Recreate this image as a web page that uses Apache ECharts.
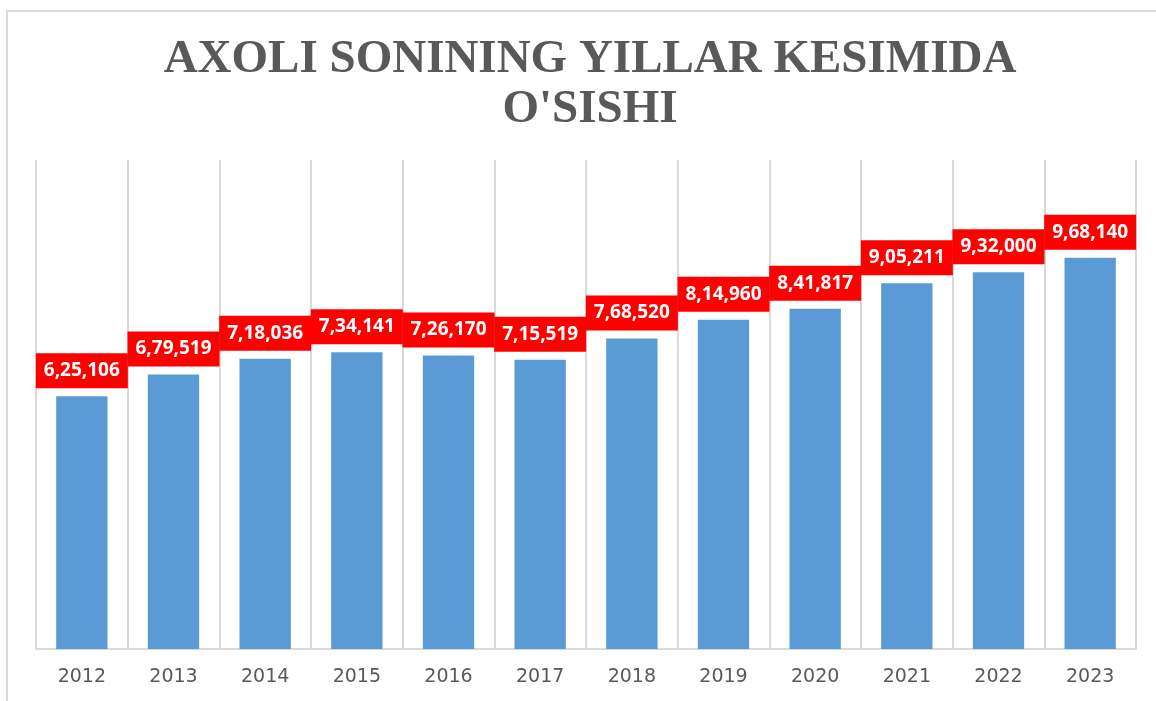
<!DOCTYPE html>
<html>
<head>
<meta charset="utf-8">
<script src="https://cdn.jsdelivr.net/npm/echarts@6/dist/echarts.min.js"></script>
<style>
  html, body { margin: 0; padding: 0; background: #fff; }
  #chart { width: 1156px; height: 701px; }
</style>
</head>
<body>
<div id="chart"></div>
<script>
// Data
const years = ['2012', '2013', '2014', '2015', '2016', '2017', '2018', '2019', '2020', '2021', '2022', '2023'];
const population = [625106, 679519, 718036, 734141, 726170, 715519, 768520, 814960, 841817, 905211, 932000, 968140];
const titleText = "AXOLI SONINING YILLAR KESIMIDA\nO'SISHI";

// Indian style grouping: 6,25,106
function formatIndian(n) {
    const s = String(n);
    if (s.length <= 3) return s;
    let last3 = s.slice(-3);
    let rest = s.slice(0, -3);
    rest = rest.replace(/\B(?=(\d{2})+(?!\d))/g, ',');
    return rest + ',' + last3;
}

const chart = echarts.init(document.getElementById('chart'));

const option = {
    backgroundColor: '#fff',
    animation: false,
    title: {
        text: titleText,
        left: 585,
        top: 30,
        textAlign: 'center',
        textStyle: {
            fontFamily: 'Liberation Serif',
            fontWeight: 'bold',
            fontSize: 47,
            lineHeight: 50,
            color: '#595959',
        },
    },
    graphic: [
        {
            type: 'rect',
            shape: { x: 7, y: 11, width: 1170, height: 720 },
            style: { fill: 'none', stroke: '#d9d9d9', lineWidth: 2 },
            silent: true,
        },
    ],
    grid: { left: 36, right: 20, top: 160, bottom: 52 },
    xAxis: {
        type: 'category',
        data: years,
        axisLine: { lineStyle: { color: '#d9d9d9', width: 2 } },
        axisTick: { show: false },
        splitLine: { show: true, lineStyle: { color: '#d9d9d9', width: 2 } },
        axisLabel: {
            margin: 19,
            fontFamily: 'DejaVu Sans',
            fontSize: 19,
            color: '#595959',
        },
    },
    yAxis: {
        type: 'value',
        min: 0,
        max: 1210000,
        show: false,
        splitLine: { show: false },
    },
    series: [
        {
            type: 'bar',
            data: population,
            barWidth: '56%',
            itemStyle: { color: '#5b9bd5' },
            label: {
                show: true,
                position: 'top',
                distance: 8,
                formatter: (p) => formatIndian(p.value),
                backgroundColor: '#ff0000',
                color: '#fff',
                fontFamily: 'Open Sans',
                fontWeight: 'bold',
                fontSize: 19,
                lineHeight: 19,
                width: 76,
                align: 'center',
                padding: [8, 8],
            },
        },
    ],
};

chart.setOption(option);
</script>
</body>
</html>
